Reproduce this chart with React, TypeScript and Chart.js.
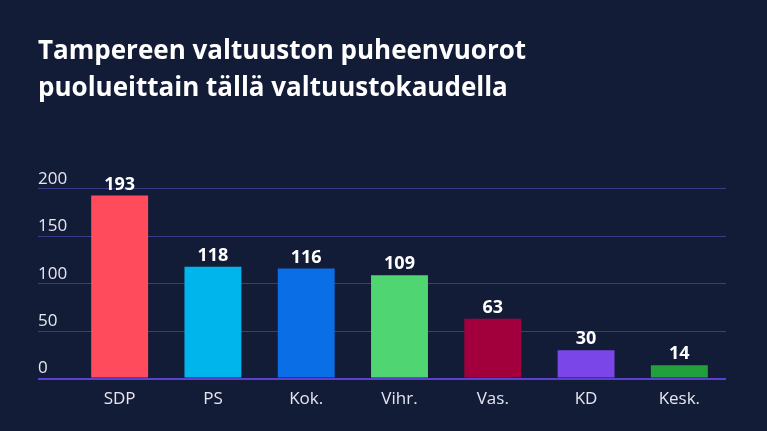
import React, { useEffect, useRef } from "react";
import { Chart, registerables } from "chart.js";

Chart.register(...registerables);

const titleLines = ["Tampereen valtuuston puheenvuorot", "puolueittain tällä valtuustokaudella"];
const parties = ["SDP", "PS", "Kok.", "Vihr.", "Vas.", "KD", "Kesk."];
const speeches = [193, 118, 116, 109, 63, 30, 14];
const barColors = ["#ff4b5c", "#00b4ec", "#0a6fe6", "#4fd672", "#a1003c", "#7b46e8", "#22a03c"];
const yTicks = [0, 50, 100, 150, 200];

const BG = "#131c37";
const FONT = "'Open Sans', 'Noto Sans', sans-serif";

const valueLabels = {
  id: "valueLabels",
  afterDatasetsDraw(chart: any) {
    const ctx = chart.ctx;
    const meta = chart.getDatasetMeta(0);
    ctx.save();
    ctx.fillStyle = "#ffffff";
    ctx.font = `bold 18px ${FONT}`;
    ctx.textAlign = "center";
    ctx.textBaseline = "bottom";
    meta.data.forEach((bar: any, i: number) => {
      ctx.fillText(String(chart.data.datasets[0].data[i]), bar.x, bar.y - 2);
    });
    ctx.restore();
  },
};

const background = {
  id: "bg",
  beforeDraw(chart: any) {
    const ctx = chart.ctx;
    ctx.save();
    ctx.fillStyle = BG;
    ctx.fillRect(0, 0, chart.width, chart.height);
    ctx.restore();
  },
};

export default function App() {
  const ref = useRef<HTMLCanvasElement>(null);
  useEffect(() => {
    document.body.style.margin = "0";
    document.body.style.background = BG;
    const chart = new Chart(ref.current!, {
      type: "bar",
      data: {
        labels: parties,
        datasets: [
          {
            data: speeches,
            backgroundColor: barColors,
            barPercentage: 0.61,
            categoryPercentage: 1,
          },
        ],
      },
      options: {
        animation: false,
        responsive: false,
        layout: { padding: { left: 38, right: 41, top: 0, bottom: 12 } },
        plugins: {
          legend: { display: false },
          tooltip: { enabled: false },
          title: {
            display: true,
            text: titleLines,
            align: "start",
            color: "#ffffff",
            font: { family: FONT, size: 26, weight: "bold", lineHeight: 1.42 },
            padding: { top: 33, bottom: 82 },
          },
        },
        scales: {
          x: {
            grid: { display: false, drawTicks: false },
            border: { display: false },
            ticks: { color: "#e6e6f0", font: { family: FONT, size: 17 }, padding: 10 },
          },
          y: {
            min: 0,
            max: 200,
            afterBuildTicks(scale: any) {
              scale.ticks = yTicks.map((v) => ({ value: v }));
            },
            afterFit(scale: any) {
              scale.width = 35;
            },
            grid: {
              color: (c: any) => (c.tick && c.tick.value === 0 ? "#5a3fd2" : "#3b3b8c"),
              lineWidth: (c: any) => (c.tick && c.tick.value === 0 ? 2 : 1),
              drawTicks: true,
              tickLength: 35,
            },
            border: { display: false },
            ticks: {
              crossAlign: "far",
              padding: 0,
              labelOffset: -10,
              color: "#e6e6f0",
              font: { family: FONT, size: 17 },
            },
          },
        },
      },
      plugins: [background, valueLabels],
    });
    return () => chart.destroy();
  }, []);
  return <canvas ref={ref} width={767} height={431} style={{ display: "block" }} />;
}
